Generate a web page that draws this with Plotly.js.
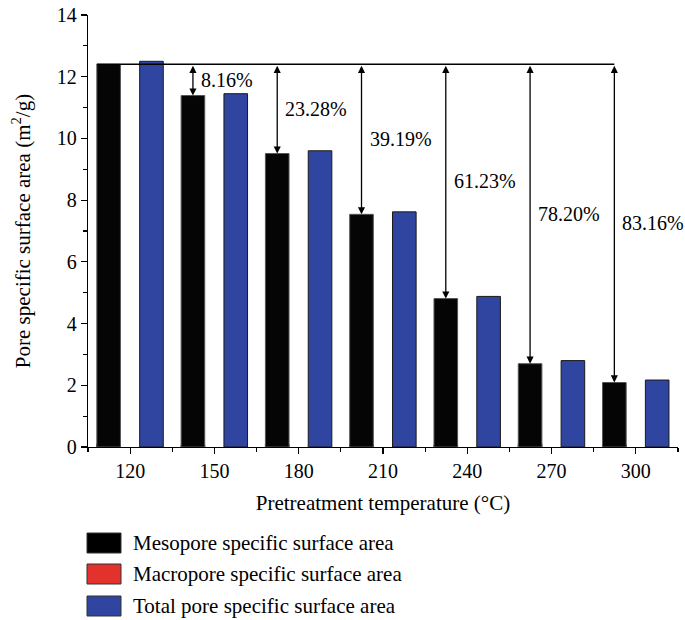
<!DOCTYPE html>
<html>
<head>
<meta charset="utf-8">
<script src="https://cdn.plot.ly/plotly-3.0.1.min.js"></script>
<style>html,body{margin:0;padding:0;background:#fff}#chart{width:685px;height:620px}</style>
</head>
<body>
<div id="chart"></div>
<script>
// Data
const temperatures = [120, 150, 180, 210, 240, 270, 300];
const mesopore = [12.40, 11.39, 9.51, 7.54, 4.81, 2.70, 2.09];
const macropore = [0.10, 0.06, 0.09, 0.08, 0.07, 0.10, 0.08];
const totalPore = [12.50, 11.45, 9.60, 7.62, 4.88, 2.80, 2.17];
const referenceValue = 12.40;
const reductionLabels = ["8.16%", "23.28%", "39.19%", "61.23%", "78.20%", "83.16%"];
const seriesNames = ["Mesopore specific surface area", "Macropore specific surface area", "Total pore specific surface area"];

const step = 30;
const barW = 0.28 * step;
const mesoOff = -0.395 * step;
const totalOff = 0.113 * step;
const colors = ["#000000", "#e2322b", "#2f45a0"];
const FONT = "Liberation Serif";
const FS_TICK = 20, FS_ANN = 20, FS_TITLE = 21, FS_LEG = 21;

const traces = [
  { type: "bar", x: temperatures, y: macropore, name: seriesNames[1], offset: mesoOff, width: barW,
    marker: { color: colors[1], line: { color: "#222", width: 1 } }, showlegend: false },
  { type: "bar", x: temperatures, y: mesopore, name: seriesNames[0], offset: mesoOff, width: barW,
    marker: { color: "#050505", line: { color: "#555", width: 1 } }, showlegend: false },
  { type: "bar", x: temperatures, y: totalPore, name: seriesNames[2], offset: totalOff, width: barW,
    marker: { color: colors[2], line: { color: "#1a1a1a", width: 1 } }, showlegend: false }
];

const annotations = [];
const shapes = [];
const mesoCenter = mesoOff + barW / 2;
shapes.push({ type: "line", xref: "x", yref: "y", x0: temperatures[0] + mesoOff, x1: temperatures[6] + mesoCenter,
  y0: referenceValue, y1: referenceValue, line: { color: "#000", width: 1.5 } });
for (let i = 1; i < temperatures.length; i++) {
  const xc = temperatures[i] + mesoCenter;
  annotations.push({ x: xc, y: mesopore[i], ax: xc, ay: referenceValue, axref: "x", ayref: "y", xref: "x", yref: "y",
    text: "", showarrow: true, arrowhead: 2, arrowside: "end+start", arrowsize: 1.1, arrowwidth: 1.3, arrowcolor: "#000" });
  annotations.push({ x: xc, y: (mesopore[i] + referenceValue) / 2, xref: "x", yref: "y", text: reductionLabels[i - 1],
    showarrow: false, xanchor: "left", xshift: 6, font: { family: FONT, size: FS_ANN, color: "#000" } });
}
const legendRowsPx = [543, 574, 606];
const px2x = p => (p - 88) / 590;
const py2y = p => (447 - p) / 432;
[0, 1, 2].forEach((k, r) => {
  const cy = legendRowsPx[r];
  shapes.push({ type: "rect", xref: "paper", yref: "paper", x0: px2x(87), x1: px2x(121), y0: py2y(cy + 10), y1: py2y(cy - 10),
    fillcolor: colors[k], line: { color: "#333", width: 1 } });
  annotations.push({ xref: "paper", yref: "paper", x: px2x(131), y: py2y(cy), xanchor: "left", yanchor: "middle",
    text: seriesNames[k], showarrow: false, font: { family: FONT, size: FS_LEG, color: "#000" } });
});

const layout = {
  width: 685, height: 620,
  margin: { l: 88, r: 7, t: 15, b: 173 },
  paper_bgcolor: "#fff", plot_bgcolor: "#fff",
  font: { family: FONT, size: FS_TICK, color: "#000" },
  barmode: "overlay",
  showlegend: false,
  xaxis: {
    range: [temperatures[0] - step / 2, temperatures[6] + step / 2],
    tickmode: "array", tickvals: temperatures, ticktext: temperatures.map(String),
    ticks: "outside", ticklen: 6, tickwidth: 1.2, tickcolor: "#000",
    minor: { ticks: "outside", ticklen: 4, tickwidth: 1.2, tickcolor: "#000", tickmode: "linear", tick0: temperatures[0] - step / 2, dtick: step },
    showline: true, linecolor: "#000", linewidth: 1.3, showgrid: false, zeroline: false,
    tickfont: { family: FONT, size: FS_TICK },
    title: { text: "Pretreatment temperature (°C)", font: { family: FONT, size: FS_TITLE }, standoff: 14 }
  },
  yaxis: {
    range: [0, 14], dtick: 2, tick0: 0,
    ticks: "outside", ticklen: 6, tickwidth: 1.2, tickcolor: "#000",
    minor: { ticks: "outside", ticklen: 4, tickwidth: 1.2, tickcolor: "#000", dtick: 1 },
    showline: true, linecolor: "#000", linewidth: 1.3, showgrid: false, zeroline: false,
    tickfont: { family: FONT, size: FS_TICK },
    title: { text: "Pore specific surface area (m<sup>2</sup>/g)", font: { family: FONT, size: FS_TITLE }, standoff: 20 }
  },
  shapes: shapes,
  annotations: annotations
};

Plotly.newPlot("chart", traces, layout, { displayModeBar: false, staticPlot: true });
</script>
</body>
</html>
